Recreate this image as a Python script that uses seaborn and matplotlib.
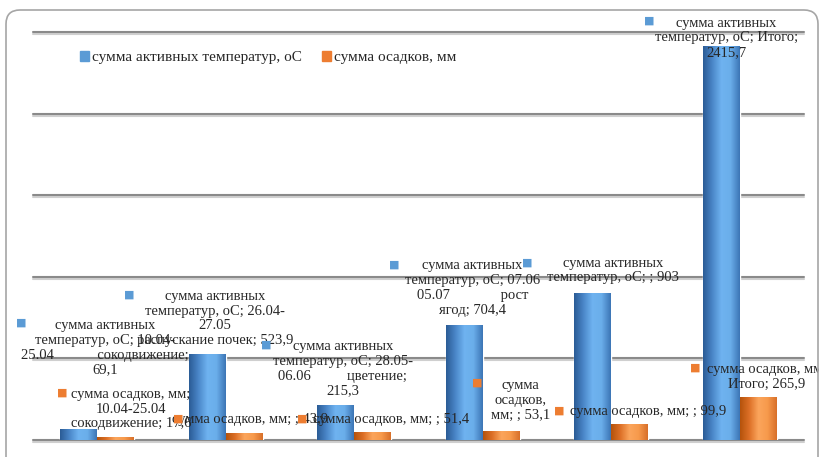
import numpy as np
import pandas as pd
import matplotlib
matplotlib.use('Agg')
import matplotlib.pyplot as plt
import matplotlib.patheffects as pe
import seaborn as sns
from matplotlib.patches import FancyBboxPatch, Patch
from matplotlib.colors import LinearSegmentedColormap
from matplotlib.transforms import IdentityTransform

# data
periods = ['10.04-25.04 сокодвижение', '26.04-27.05 распускание почек', '28.05-06.06 цветение',
           '07.06-05.07 рост ягод', ' ', 'Итого']
temp_sum = [69.1, 523.9, 215.3, 704.4, 903, 2415.7]
rain_sum = [17.6, 43.9, 51.4, 53.1, 99.9, 265.9]
series = ['сумма активных температур, oC', 'сумма осадков, мм']

temp_labels = ['сумма активных\nтемператур, oC; 10.04-\n25.04            сокодвижение;\n69,1',
               'сумма активных\nтемператур, oC; 26.04-\n27.05\nраспускание почек; 523,9',
               'сумма активных\nтемператур, oC; 28.05-\n06.06          цветение;\n215,3',
               'сумма активных\nтемператур, oC; 07.06\n05.07              рост\nягод; 704,4',
               'сумма активных\nтемператур, oC; ; 903',
               'сумма активных\nтемператур, oC; Итого;\n2415,7']
rain_labels = ['сумма осадков, мм;\n10.04-25.04\nсокодвижение; 17,6',
               'сумма осадков, мм; ; 43,9',
               'сумма осадков, мм; ; 51,4',
               'сумма\nосадков,\nмм; ; 53,1',
               'сумма осадков, мм; ; 99,9',
               'сумма осадков, мм;\nИтого; 265,9']

# label placement, pixel offsets from top of each bar: (text dx, dy, marker dx, dy)
temp_offsets = [(26, 81, -58, 106), (8, 36, -78, 60), (7, 36, -70, 60),
                (8, 37, -70, 60), (20, 22, -66, 30), (5, 8, -72, 25)]
rain_offsets = [(15, 28, -53, 44), (6, 13, -66, 14), (18, 12, -70, 13),
                (19, 31, -24, 49), (18, 12, -70, 13), (8, 20, -63, 29)]

blue = '#5b9bd5'
orange = '#ed7d31'
txt_color = '#262626'

df = pd.DataFrame({'период': periods * 2,
                   'значение': temp_sum + rain_sum,
                   'серия': [series[0]] * 6 + [series[1]] * 6})

sns.set_style('white')
plt.rcParams['font.family'] = ['Liberation Serif', 'DejaVu Sans']

fig = plt.figure(figsize=(8.19, 4.57), dpi=100)
ax = fig.add_axes([33 / 819, 1 - 440 / 457, (804 - 33) / 819, (440 - 32) / 457])

sns.barplot(data=df, x='период', y='значение', hue='серия', order=periods,
            palette=[blue, orange], width=0.575, saturation=1, legend=False, ax=ax)

ax.set_xlim(-0.5, 5.5)
ax.set_ylim(0, 2500)
ax.set_yticks(np.arange(0, 2501, 500))
ax.grid(axis='y', color='#8a8a8a', lw=1.5)
ax.set_axisbelow(True)
for gl in ax.get_ygridlines():
    gl.set_clip_on(False)
    gl.set_path_effects([pe.SimpleLineShadow(offset=(0, -1.5), shadow_color='#cfcfcf', alpha=1),
                         pe.Normal()])
sns.despine(ax=ax, left=True, bottom=True)
ax.set_xticks([])
ax.tick_params(left=False, labelleft=False)
ax.set_xlabel('')
ax.set_ylabel('')

# gradient look on the bars
cm_blue = LinearSegmentedColormap.from_list('b', ['#2b5c96', '#4a86c8', '#6fb3f0', '#6aaeea', '#3d76b6'])
cm_orange = LinearSegmentedColormap.from_list('o', ['#b5530c', '#dd7027', '#fba55c', '#f79a4c', '#d8702a'])
grad = np.linspace(0, 1, 64).reshape(1, -1)
bars = [p for p in ax.patches if p.get_height() > 0]
for p in bars:
    x0, w, h = p.get_x(), p.get_width(), p.get_height()
    is_blue = np.allclose(p.get_facecolor()[:3], matplotlib.colors.to_rgb(blue), atol=0.02)
    im = ax.imshow(grad, cmap=cm_blue if is_blue else cm_orange, extent=(x0, x0 + w, 0, h),
                   aspect='auto', zorder=p.get_zorder() + 0.1)
    im.set_clip_path(p)
ax.set_xlim(-0.5, 5.5)
ax.set_ylim(0, 2500)

# data labels
half = 0.575 / 4
for i in range(len(periods)):
    for val, lab, off, xc, col in [(temp_sum[i], temp_labels[i], temp_offsets[i], i - half, blue),
                                   (rain_sum[i], rain_labels[i], rain_offsets[i], i + half, orange)]:
        ax.annotate(lab, xy=(xc, val), xytext=(off[0], off[1]), textcoords='offset pixels',
                    ha='center', va='center', fontsize=10.5, color=txt_color,
                    linespacing=1.17, annotation_clip=False, zorder=5)
        ax.annotate('■', xy=(xc, val), xytext=(off[2], off[3]), textcoords='offset pixels',
                    ha='center', va='center', fontsize=8, color=col, family='DejaVu Sans',
                    annotation_clip=False, zorder=5)

# legend
handles = [Patch(color=blue), Patch(color=orange)]
fig.legend(handles, series, loc='upper left', bbox_to_anchor=(80 / 819, 1 - 51 / 457),
           ncol=2, frameon=False, fontsize=11, handlelength=0.6, handleheight=0.6,
           handletextpad=0.2, columnspacing=1.3, borderpad=0, borderaxespad=0,
           labelcolor=txt_color)

# rounded chart frame
frame = FancyBboxPatch((6, -30), 812, 457 - 10 + 30, boxstyle='round,pad=0,rounding_size=14',
                       transform=IdentityTransform(), fill=False, ec='#a6a6a6', lw=1.2)
fig.patches.append(frame)

fig.savefig('out.png', dpi=100)
